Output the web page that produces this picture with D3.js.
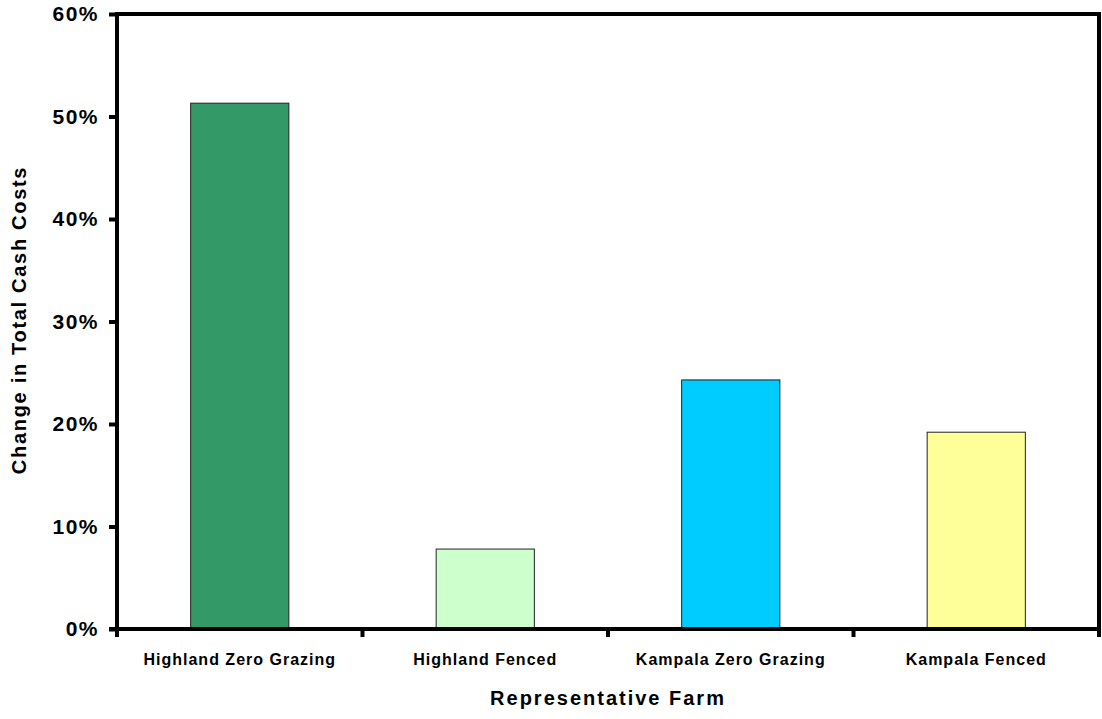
<!DOCTYPE html>
<html>
<head>
<meta charset="utf-8">
<script src="https://cdn.jsdelivr.net/npm/d3@7"></script>
<style>
  html, body { margin: 0; padding: 0; background: #fff; }
  svg { display: block; font-family: "Liberation Sans", Arial, sans-serif; }
</style>
</head>
<body>
<svg id="chart" width="1102" height="719"></svg>
<script>
// Change in total cash costs by representative farm
const farms = ["Highland Zero Grazing", "Highland Fenced", "Kampala Zero Grazing", "Kampala Fenced"];
const changes = [0.513, 0.078, 0.243, 0.192];
const barColors = ["#339966", "#CCFFCC", "#00CCFF", "#FFFF99"];
const yTicks = [0, 0.1, 0.2, 0.3, 0.4, 0.5, 0.6];

const svg = d3.select("#chart");
const margin = { left: 117, top: 14, right: 1099, bottom: 629 };

const x = d3.scaleBand()
  .domain(farms)
  .range([margin.left, margin.right])
  .paddingInner(0.6)
  .paddingOuter(0.3);

const y = d3.scaleLinear()
  .domain([0, 0.6])
  .range([margin.bottom, margin.top]);

// bars
svg.append("g").selectAll("rect")
  .data(farms)
  .join("rect")
  .attr("x", d => x(d))
  .attr("y", (d, i) => y(changes[i]))
  .attr("width", x.bandwidth())
  .attr("height", (d, i) => y(0) - y(changes[i]))
  .attr("fill", (d, i) => barColors[i])
  .attr("stroke", "#222")
  .attr("stroke-width", 1);

// plot frame: top and right edges
svg.append("path")
  .attr("d", `M${margin.left},${margin.top}H${margin.right}V${margin.bottom}`)
  .attr("fill", "none")
  .attr("stroke", "#000")
  .attr("stroke-width", 4);

// y axis
const yAxis = d3.axisLeft(y)
  .tickValues(yTicks)
  .tickFormat(d3.format(".0%"))
  .tickSize(8)
  .tickPadding(10);
const yg = svg.append("g")
  .attr("transform", `translate(${margin.left},0)`)
  .call(yAxis);
yg.select(".domain").attr("stroke-width", 4).attr("d", `M0,${margin.top - 2}V${margin.bottom + 8}`);
yg.selectAll(".tick line").attr("stroke-width", 4);
yg.selectAll(".tick text")
  .attr("font-size", 21)
  .attr("font-weight", "bold")
  .attr("letter-spacing", 1.5)
  .attr("font-family", "Liberation Sans, Arial, sans-serif")
  .attr("fill", "#000");

// x axis with ticks between categories
const edges = d3.range(farms.length + 1).map(i => margin.left + i * (margin.right - margin.left) / farms.length);
svg.append("line")
  .attr("x1", margin.left - 8).attr("x2", margin.right + 2)
  .attr("y1", margin.bottom).attr("y2", margin.bottom)
  .attr("stroke", "#000").attr("stroke-width", 4);
svg.append("g").selectAll("line")
  .data(edges)
  .join("line")
  .attr("x1", d => d).attr("x2", d => d)
  .attr("y1", margin.bottom).attr("y2", margin.bottom + 8)
  .attr("stroke", "#000").attr("stroke-width", 4);

svg.append("g").selectAll("text")
  .data(farms)
  .join("text")
  .attr("x", d => x(d) + x.bandwidth() / 2)
  .attr("y", 665)
  .attr("text-anchor", "middle")
  .attr("font-size", 16)
  .attr("font-weight", "bold")
  .attr("letter-spacing", 1)
  .attr("fill", "#000")
  .text(d => d);

// axis titles
svg.append("text")
  .attr("x", (margin.left + margin.right) / 2)
  .attr("y", 705)
  .attr("text-anchor", "middle")
  .attr("font-size", 20)
  .attr("font-weight", "bold")
  .attr("letter-spacing", 2)
  .text("Representative Farm");

svg.append("text")
  .attr("transform", `translate(26,320) rotate(-90)`)
  .attr("text-anchor", "middle")
  .attr("font-size", 20)
  .attr("font-weight", "bold")
  .attr("letter-spacing", 1.7)
  .text("Change in Total Cash Costs");
</script>
</body>
</html>
